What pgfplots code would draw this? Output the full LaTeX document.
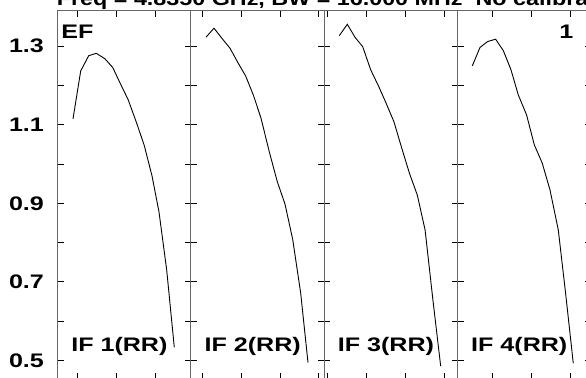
\documentclass[border=0pt]{standalone}
\usepackage{pgfplots}
\pgfplotsset{compat=1.18}
\usepackage{graphicx}
\usepackage{fontspec}
\setmainfont{Liberation Sans}
\newcommand\sx[1]{\scalebox{1.28}[1]{#1}}
\newcommand\lbl{\fontsize{9.8pt}{10pt}\selectfont\bfseries}
\pgfplotsset{panel/.style={
  scale only axis, width=66.65pt, height=184pt, anchor=south west,
  xmin=0, xmax=133.3, ymin=0.4524, ymax=1.3899,
  ytick={0.5,0.6,0.7,0.8,0.9,1.0,1.1,1.2,1.3},
  yticklabels={}, xticklabels={},
  tick align=inside, major tick length=3pt,
  axis line style={black!60, line width=0.5pt},
  tick style={black, line width=0.5pt},
  yticklabel style={font=\lbl, inner sep=0pt, xshift=-6.7pt},
}}
\begin{document}
\begin{tikzpicture}[x=0.5pt,y=0.5pt]
% Panel 1
\begin{axis}[panel, at={(28.85pt,-0.5pt)}, xtick={20,58.9,97.8},
  yticklabels={{\sx{0.5}},{},{\sx{0.7}},{},{\sx{0.9}},{},{\sx{1.1}},{},{\sx{1.3}}}]
\addplot[black, line width=0.45pt, mark=none] coordinates {
(15.3,1.115) (23.0,1.237) (31.0,1.276) (38.6,1.282) (47.3,1.268) (55.0,1.246) (63.0,1.203)
(70.6,1.163) (79.0,1.104) (86.6,1.047) (94.3,0.970) (101.3,0.878) (109.0,0.730) (116.6,0.533)};
\end{axis}
% Panel 2
\begin{axis}[panel, at={(95.5pt,-0.5pt)}, xtick={11.3,50.2,89.1,128.0}]
\addplot[black, line width=0.45pt, mark=none] coordinates {
(15.0,1.323) (23.0,1.346) (31.0,1.320) (39.0,1.295) (47.0,1.258) (54.7,1.224) (62.3,1.176)
(70.0,1.117) (78.3,1.031) (86.3,0.955) (94.0,0.898) (101.7,0.808) (109.7,0.671) (117.0,0.494)};
\end{axis}
% Panel 3
\begin{axis}[panel, at={(162.15pt,-0.5pt)}, xtick={3,42.4,81.7,120.7}]
\addplot[black, line width=0.45pt, mark=none] coordinates {
(15.0,1.327) (23.0,1.356) (30.7,1.323) (38.4,1.299) (46.4,1.240) (54.0,1.200) (61.8,1.155)
(69.6,1.108) (77.4,1.041) (85.2,0.976) (93.0,0.921) (100.8,0.832) (108.6,0.654) (116.4,0.485)};
\end{axis}
% Panel 4
\begin{axis}[panel, at={(228.8pt,-0.5pt)}, xtick={35.1,74.1,113.1}]
\addplot[black, line width=0.45pt, mark=none] coordinates {
(14.7,1.250) (22.4,1.297) (30.0,1.312) (38.0,1.318) (45.7,1.289) (53.4,1.240) (60.7,1.176)
(69.0,1.125) (76.7,1.049) (84.7,1.002) (92.4,0.934) (100.7,0.832) (108.0,0.671) (115.7,0.492)};
\end{axis}
% texts
\node[anchor=base west, inner sep=0pt, font=\lbl] at (56.5,372.5) {\scalebox{1.19}[1]{Freq = 4.8350 GHz, BW = 16.000 MHz\ \ No calibration applied}};
\node[anchor=base west, inner sep=0pt, font=\lbl] at (60.9,339) {\sx{EF}};
\node[anchor=base east, inner sep=0pt, font=\lbl] at (573.8,339.5) {\sx{1}};
\node[anchor=base west, inner sep=0pt, font=\lbl] at (70.9,26) {\sx{IF 1(RR)}};
\node[anchor=base west, inner sep=0pt, font=\lbl] at (204.2,26) {\sx{IF 2(RR)}};
\node[anchor=base west, inner sep=0pt, font=\lbl] at (337.5,26) {\sx{IF 3(RR)}};
\node[anchor=base west, inner sep=0pt, font=\lbl] at (470.8,26) {\sx{IF 4(RR)}};
\pgfresetboundingbox
\useasboundingbox (0,0) rectangle (586,378);
\end{tikzpicture}
\end{document}
